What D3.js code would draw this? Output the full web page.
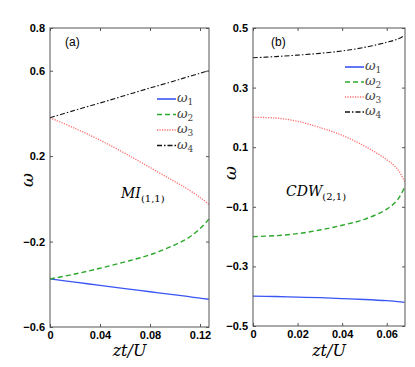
<!DOCTYPE html>
<html>
<head>
<meta charset="utf-8">
<script src="https://cdn.jsdelivr.net/npm/d3@7"></script>
<style>
  body { margin: 0; background: #fff; }
  svg text { font-family: "Liberation Sans", Arial, sans-serif; }
</style>
</head>
<body>
<div id="chart"></div>
<script>
// panel (a) MI(1,1) ---------------------------------------------------------
const xA = [0, 0.02, 0.04, 0.06, 0.08, 0.10, 0.11, 0.12, 0.127];
const w1A = [-0.375, -0.39, -0.405, -0.42, -0.435, -0.45, -0.457, -0.465, -0.47];
const w2A = [-0.375, -0.352, -0.325, -0.295, -0.262, -0.215, -0.185, -0.14, -0.095];
const w3A = [0.38, 0.33, 0.275, 0.213, 0.147, 0.08, 0.046, 0.007, -0.025];
const w4A = [0.38, 0.415, 0.449, 0.484, 0.519, 0.553, 0.571, 0.588, 0.6];
const xTicksA = [0, 0.04, 0.08, 0.12];
const yTicksA = [-0.6, -0.2, 0.2, 0.6, 0.8];
// panel (b) CDW(2,1) --------------------------------------------------------
const xB = [0, 0.01, 0.02, 0.03, 0.04, 0.05, 0.06, 0.065, 0.068];
const w1B = [-0.4, -0.401, -0.403, -0.405, -0.408, -0.411, -0.415, -0.418, -0.421];
const w2B = [-0.2, -0.197, -0.19, -0.178, -0.162, -0.142, -0.108, -0.075, -0.035];
const w3B = [0.2, 0.198, 0.187, 0.166, 0.14, 0.104, 0.058, 0.025, -0.015];
const w4B = [0.4, 0.404, 0.409, 0.415, 0.423, 0.435, 0.452, 0.463, 0.475];
const xTicksB = [0, 0.02, 0.04, 0.06];
const yTicksB = [-0.5, -0.3, -0.1, 0.1, 0.3, 0.5];
const seriesNames = ['1', '2', '3', '4'];

const styles = [
  { color: '#3a55f5', dash: null, width: 1.3 },
  { color: '#2ca82c', dash: '5,3', width: 1.4 },
  { color: '#ff6b6b', dash: '1.2,1.3', width: 1.3 },
  { color: '#111', dash: '5,2,1.5,2', width: 1.1 }
];

const svg = d3.select('#chart').append('svg')
  .attr('width', 415).attr('height', 367);

const panels = [
  { left: 50, right: 209, top: 28, bottom: 327, xs: xA, ys: [w1A, w2A, w3A, w4A],
    xDom: [0, 0.1272], yDom: [-0.6, 0.8], xt: xTicksA, yt: yTicksA,
    tag: '(a)', tagX: 65, name: 'MI', sub: '(1,1)', nameX: 121, nameY: 198,
    legX: 157, legY: 99, legStep: 15.5, yLabX: 33, yLabY: 180 },
  { left: 253, right: 405, top: 28, bottom: 326, xs: xB, ys: [w1B, w2B, w3B, w4B],
    xDom: [0, 0.0682], yDom: [-0.5, 0.5], xt: xTicksB, yt: yTicksB,
    tag: '(b)', tagX: 271, name: 'CDW', sub: '(2,1)', nameX: 286, nameY: 196,
    legX: 345, legY: 67, legStep: 15, yLabX: 236, yLabY: 173 }
];

panels.forEach(p => {
  const x = d3.scaleLinear().domain(p.xDom).range([p.left, p.right]);
  const y = d3.scaleLinear().domain(p.yDom).range([p.bottom, p.top]);
  const g = svg.append('g');

  // 線 -----------------------------------------------------------------
  const line = d3.line().curve(d3.curveCatmullRom.alpha(0.5))
    .x((d, i) => x(p.xs[i])).y(d => y(d));
  p.ys.forEach((vals, k) => {
    g.append('path').datum(vals)
      .attr('d', line)
      .attr('fill', 'none')
      .attr('stroke', styles[k].color)
      .attr('stroke-width', styles[k].width)
      .attr('stroke-dasharray', styles[k].dash);
  });

  // 軸 -----------------------------------------------------------------
  const bold = sel => sel.selectAll('text')
    .attr('font-size', '11px').attr('font-weight', 'bold').attr('fill', '#000');
  g.append('g').attr('transform', 'translate(0,' + p.bottom + ')')
    .call(d3.axisBottom(x).tickValues(p.xt).tickSize(-3).tickPadding(4).tickFormat(d => d === 0 ? '0' : d3.format('.2f')(d)))
    .call(s => s.select('.domain').remove())
    .call(bold);
  g.append('g').attr('transform', 'translate(0,' + p.top + ')')
    .call(d3.axisTop(x).tickValues(p.xt).tickSize(-3).tickFormat(''))
    .call(s => s.select('.domain').remove());
  g.append('g').attr('transform', 'translate(' + p.left + ',0)')
    .call(d3.axisLeft(y).tickValues(p.yt).tickSize(-3).tickPadding(5).tickFormat(d => d3.format('.1f')(d).replace('-', '\u2212')))
    .call(s => s.select('.domain').remove())
    .call(bold);
  g.append('g').attr('transform', 'translate(' + p.right + ',0)')
    .call(d3.axisRight(y).tickValues(p.yt).tickSize(-3).tickFormat(''))
    .call(s => s.select('.domain').remove());
  g.selectAll('.tick line').attr('stroke', '#555');

  g.append('rect')
    .attr('x', p.left).attr('y', p.top)
    .attr('width', p.right - p.left).attr('height', p.bottom - p.top)
    .attr('fill', 'none').attr('stroke', '#555').attr('stroke-width', 1);

  // ラベル -------------------------------------------------------------
  g.append('text').attr('x', p.tagX).attr('y', 46)
    .attr('font-size', '12px').text(p.tag);

  const nm = g.append('text').attr('x', p.nameX).attr('y', p.nameY)
    .attr('font-size', '14px').style('font-family', '"DejaVu Serif", serif')
    .style('font-style', 'italic');
  nm.append('tspan').text(p.name);
  nm.append('tspan').attr('font-size', '10px').attr('dy', 4).style('font-style', 'normal').text(p.sub);

  g.append('text')
    .attr('transform', 'translate(' + p.yLabX + ',' + p.yLabY + ') rotate(-90)')
    .attr('text-anchor', 'middle')
    .attr('font-size', '17px').style('font-family', '"DejaVu Serif", serif')
    .style('font-style', 'italic').text('ω');

  g.append('text')
    .attr('x', (p.left + p.right) / 2).attr('y', 356)
    .attr('text-anchor', 'middle')
    .attr('font-size', '16px').style('font-family', '"DejaVu Serif", serif')
    .style('font-style', 'italic').text('zt/U');

  // 凡例 ---------------------------------------------------------------
  seriesNames.forEach((s, k) => {
    const ly = p.legY + k * p.legStep;
    g.append('line')
      .attr('x1', p.legX).attr('x2', p.legX + 19)
      .attr('y1', ly).attr('y2', ly)
      .attr('stroke', styles[k].color)
      .attr('stroke-width', styles[k].width + 0.3)
      .attr('stroke-dasharray', styles[k].dash);
    const t = g.append('text').attr('x', p.legX + 20).attr('y', ly + 3)
      .attr('font-size', '13px').attr('fill', '#444')
      .style('font-family', '"DejaVu Serif", serif').style('font-style', 'italic');
    t.append('tspan').text('ω');
    t.append('tspan').attr('font-size', '9px').attr('dy', 3).style('font-style', 'normal').text(s);
  });
});
</script>
</body>
</html>
